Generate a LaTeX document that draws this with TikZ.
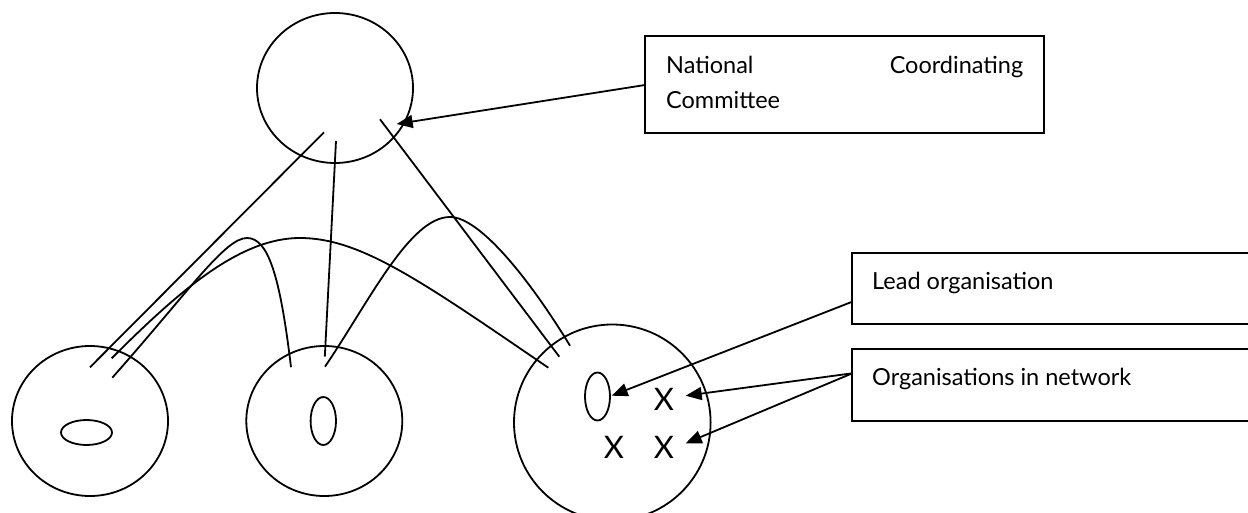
\documentclass[tikz,border=0pt]{standalone}
\usepackage{fontspec}
\setmainfont{Lato}
\newfontfamily\xfont{Lato Light}
\usetikzlibrary{arrows.meta,shapes.geometric}
\begin{document}
\begin{tikzpicture}[x=1pt,y=-1pt,
  ln/.style={line width=1.8pt},
  oval/.style={draw, ellipse, inner sep=0pt, line width=1.8pt},
  lbox/.style={draw, line width=1.8pt},
  lbl/.style={inner sep=0pt, anchor=base west, font=\fontsize{23.5}{35}\selectfont},
  xmark/.style={inner sep=0pt, font=\fontsize{31}{31}\selectfont},
  arr/.style={-{Triangle[length=16pt,width=13pt]}, line width=1.8pt}]
\clip (0,0) rectangle (1248,513);
\fill[white] (0,0) rectangle (1248,513);
% circles
\node[oval, minimum width=156pt, minimum height=150pt] (top) at (335,88) {};
\node[oval, minimum width=156pt, minimum height=150pt] (left) at (90,421) {};
\node[oval, minimum width=156pt, minimum height=150pt] (mid) at (324.3,421) {};
\node[oval, minimum width=196.6pt, minimum height=196pt] (right) at (612.3,422.5) {};
% inner ovals
\node[oval, minimum width=51pt, minimum height=25pt] (lin) at (86.5,432.5) {};
\node[oval, minimum width=25.4pt, minimum height=48pt] (min) at (323.3,421) {};
\node[oval, minimum width=25pt, minimum height=48pt] (rin) at (597.5,396.5) {};
% X marks
\node[xmark] (x1) at (664,399) {X};
\node[xmark] (x2) at (614,447) {X};
\node[xmark] (x3) at (664,447) {X};
% boxes
\draw[lbox] (645,36) rectangle (1044,132.7);
\coordinate (ncc) at (645,85);
\node[lbl] (ncct) at (666,73.3) {\parbox[t]{357pt}{National\hfill Coordinating\\Committee}};
\draw[lbox] (852.3,253.3) rectangle (1270,324);
\coordinate (lead) at (852.3,301.7);
\node[lbl] (leadt) at (872,289.3) {Lead organisation};
\draw[lbox] (852.3,349) rectangle (1270,420.7);
\coordinate (orgs) at (852.3,373.3);
\node[lbl] (orgst) at (872,385) {Organisations in network};
% connector end points
\coordinate (tA) at (324,132.3);
\coordinate (tB) at (336,141);
\coordinate (tC) at (380,119.3);
\coordinate (lA) at (90,367.3);
\coordinate (lBig) at (111.7,358.3);
\coordinate (lSm) at (112.3,377.7);
\coordinate (mB) at (324.8,356.7);
\coordinate (mL) at (291,367.2);
\coordinate (mR) at (325,366.7);
\coordinate (rBig) at (548.3,367.7);
\coordinate (rC) at (559.3,356.7);
\coordinate (rM) at (570,345.7);
% straight connectors
\draw[ln] (tA) -- (lA);
\draw[ln] (tB) -- (mB);
\draw[ln] (tC) -- (rC);
% curved connectors
\draw[ln] (lBig) .. controls (180,290) and (240,238) .. (300,238)
             .. controls (360,238) and (420,280) .. (rBig);
\draw[ln] (lSm) .. controls (190,290) and (225,238) .. (247,238)
            .. controls (268,238) and (280,275) .. (mL);
\draw[ln] (mR) .. controls (370,300) and (410,217) .. (450,217)
           .. controls (480,217) and (530,280) .. (rM);
% arrows
\coordinate (topT) at (396.7,124);
\coordinate (rinT) at (611.7,395.7);
\coordinate (x1T) at (685.7,395.7);
\coordinate (x3T) at (685.7,443.3);
\draw[arr] (ncc) -- (topT);
\draw[arr] (lead) -- (rinT);
\draw[arr] (orgs) -- (x1T);
\draw[arr] (orgs) -- (x3T);
\end{tikzpicture}
\end{document}
